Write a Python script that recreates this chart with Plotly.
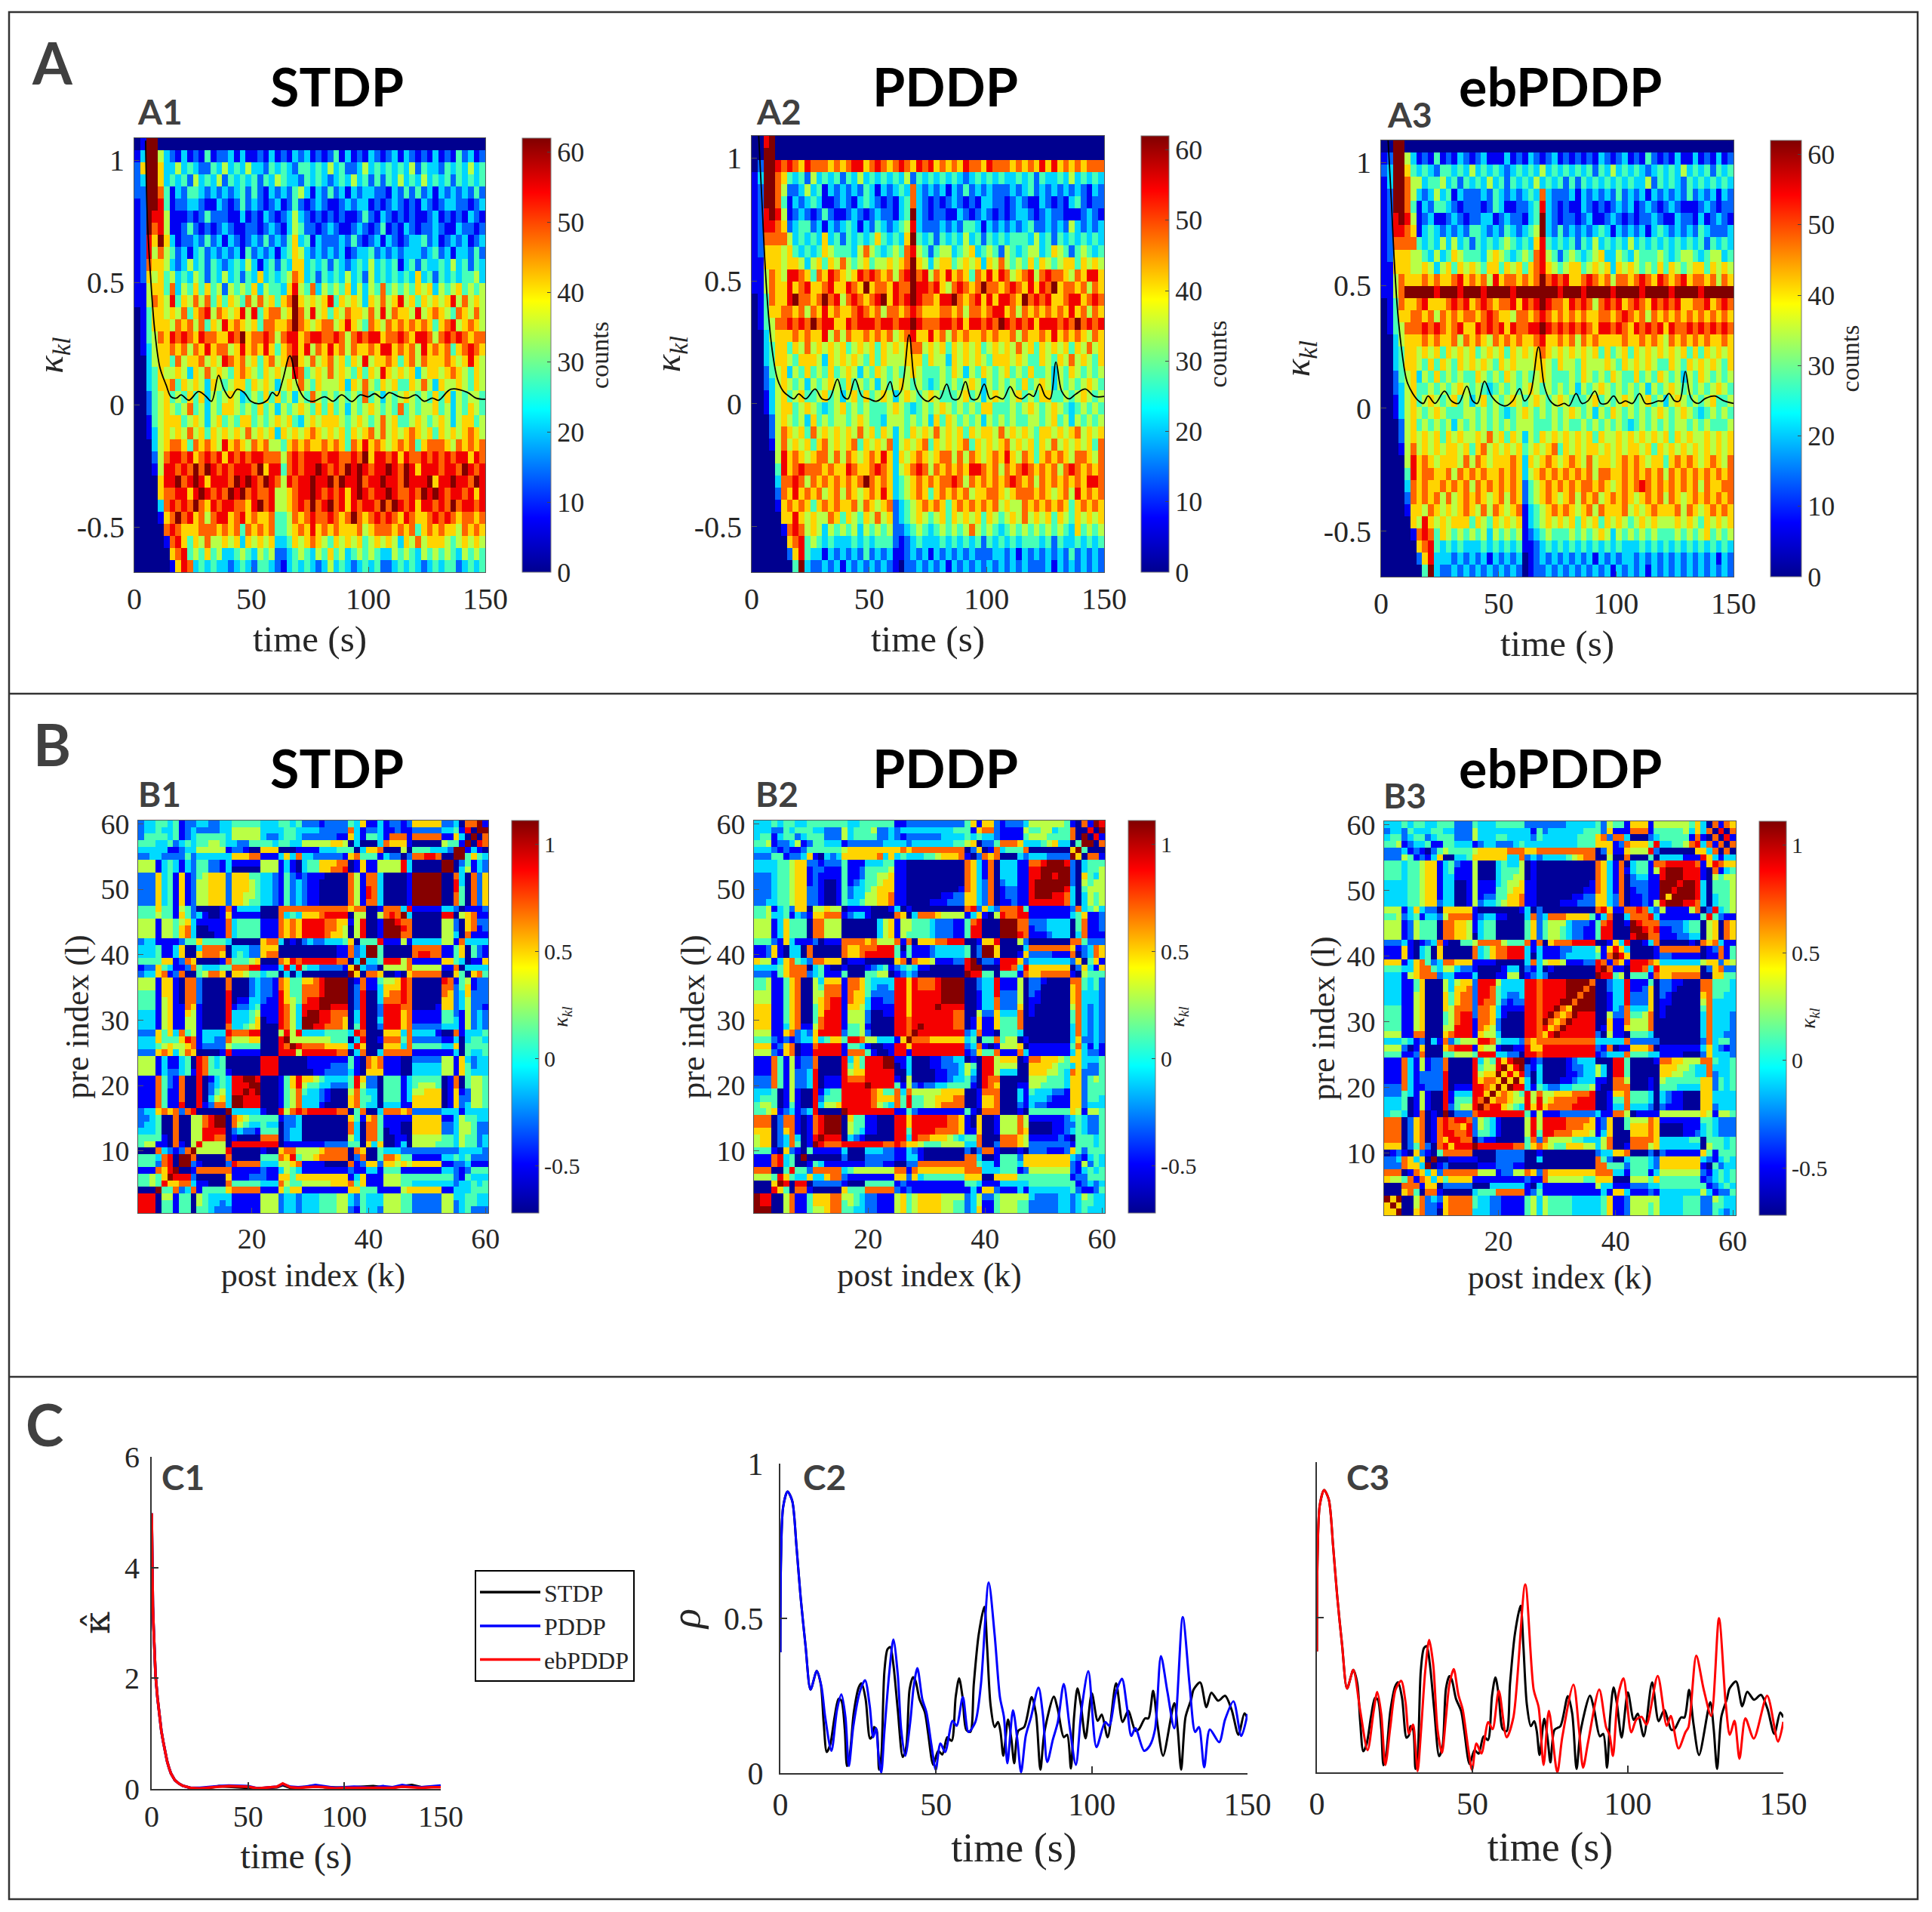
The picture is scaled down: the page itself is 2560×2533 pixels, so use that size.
import plotly.graph_objects as go

W, H = 2560, 2533
SERIF = "Liberation Serif"
SANS = "Lato"
JET = [[0, "#00008f"], [0.125, "#0000ff"], [0.375, "#00ffff"], [0.625, "#ffff00"], [0.875, "#ff0000"], [1, "#800000"]]

# ---------- A panels: counts, one digit per cell (level 0-9, top row first)
A1_LEVELS = [
"019900 000000000 000000000 000000000 000000000 000000000 000000000",
"139953 213121412 231311213 121323121 241312132 123132121 312142312",
"269963 353432243 534353324 343244343 534223534 343435243 324343534",
"239963 434253435 243434243 543324343 234353424 243534353 434243434",
"229974 132443232 323424213 232453132 423132332 213242423 132323242",
"129984 122332113 212423212 312421232 112323312 123212132 123322123",
"129885 111212422 211312132 123532121 212112421 321212112 312121321",
"129785 112421212 321122123 213542212 321123212 412132122 321132212",
"128696 312232423 132123242 324634132 223242123 132123342 312323123",
"128575 423134232 323142323 134653232 323123342 323233323 423133242",
"127665 323534243 234353134 243663434 243234353 434134243 343534243",
"126564 534354243 534243634 345763424 343534253 434343634 243434453",
"115664 735464645 254546354 436854735 454635354 745454656 354564545",
"115765 846575746 465475756 467965656 846565365 756856465 656857565",
"014665 657467857 656858467 756975856 465766575 857665856 765476575",
"014666 576757465 867656477 667976567 756865476 576767676 467856765",
"014576 878768776 687967787 578867887 787578788 677876887 578787677",
"013566 767576867 756867686 467868576 867576676 886767586 767467876",
"003566 475667565 876756467 567965756 756465856 676467576 667656865",
"003465 565365756 546765465 655874565 756546465 865656356 656765465",
"003466 746565365 456646565 356575465 556365754 656446575 365565465",
"002456 454646354 565345464 645354754 545454745 354565454 646354554",
"002456 545745354 665454645 354565464 645354565 454745455 645354654",
"001456 664565356 454664545 656435656 665456545 756445654 565356645",
"001356 565756465 656575656 365656765 656465675 756567656 465656765",
"000356 776476765 867657675 546767667 676476867 656767467 776576767",
"000257 887867878 687878877 757878887 887787968 878687787 878788687",
"000158 878797987 878887968 847878898 787989878 898798688 878879878",
"000068 897898688 879898798 758788988 979889788 988798889 688988798",
"000067 788689878 798978778 556788987 878689878 898778798 987887868",
"000037 878797687 887768978 556787978 978687887 979878688 787978878",
"000016 797867578 867867667 445767877 876797678 787687667 878767767",
"000007 876667776 767476767 445676867 676667567 776767467 676657676",
"000001 786465755 656365656 334656765 465656456 565365756 665456565",
"000000 678454645 334543545 223454354 645345454 335454354 545435454",
"000000 168734343 323432443 213434323 534323434 223434323 434423434",
]
A2_LEVELS = [
"008900 000000000 000000000 000000000 000000000 000000000 000000000",
"009900 000000000 000000000 000000000 000000000 000000000 000000000",
"029987 876877767 678867876 787687867 676877687 776767686 867676777",
"139976 434253434 243534343 435243434 343234343 433434243 343534343",
"129975 223534132 323243132 343732323 132423232 223234232 323232132",
"129974 132343112 321343212 134732121 232121332 212321132 121342122",
"128985 123212421 123212322 134932122 113212321 212332123 221112321",
"128876 234423132 343132432 345832223 232443132 323234223 232532323",
"127777 534343634 243434643 436943424 343534243 434443534 243434343",
"126665 643434654 443575434 547854245 534563454 254345534 654245434",
"116665 665356465 754564556 567965356 645656365 754546465 456646565",
"115765 887647687 656878767 578978576 867647686 875678578 776576886",
"115766 867866786 687696776 877988786 578767977 678768687 967767576",
"014766 897767978 578767896 878987768 897678686 887697878 667886787",
"014667 767576867 667876757 767876667 767577678 867576767 676867576",
"014577 878797886 687888788 788987778 878688787 987878688 878797878",
"003566 676766857 576676767 567866867 576766767 667576676 867676576",
"003466 465756565 645656465 656775656 465656456 565756465 656465756",
"003466 546665365 656546465 556664655 365656546 665654465 465756546",
"002456 354645464 565354654 545654445 465354654 564546445 354654545",
"002356 545354565 464545354 565454345 454565354 545464565 354545654",
"001356 456445645 356464565 356545654 445645356 545645466 445456545",
"001356 645654345 645454445 654345456 545454664 445456545 654345454",
"000256 545364545 545654435 554545364 654545354 545445545 645354545",
"000257 656475656 565756465 354656575 656465665 756565466 565675656",
"000157 565646756 567465657 356567465 656746565 675656465 756565647",
"000058 676567757 576567686 365676567 757576567 686576467 676577657",
"000048 678777676 687667876 356787576 767688767 576787676 757876767",
"000037 787576767 676797676 345676767 787576767 678767576 767676887",
"000027 686767567 576567686 345676467 676756677 656777676 567586767",
"000016 767646767 667576567 234567676 467676767 565576767 676467676",
"000006 686565576 465465756 234565456 465656465 456575656 465465656",
"000001 787565354 545354545 223454345 454575454 345454545 454364545",
"000000 678454343 334343444 212343334 343434243 434344434 243343434",
"000000 268433132 323242323 112323132 323232223 323132323 232423232",
"000000 049322323 132323232 102232323 132323232 323232223 132323232",
]
A3_LEVELS = [
"009900 000000000 000000000 000000000 000000000 000000000 000000000",
"129953 121412132 123111312 132123121 212132123 121421213 113121312",
"239964 343244343 534343234 343534343 434243534 343234343 534342434",
"139975 534453424 343534243 435343424 243434343 433524343 243434343",
"129975 323534132 223243232 343732223 132323242 323132323 242323132",
"129974 132443212 221243112 234832121 132121232 312321232 111232122",
"128985 123112321 223312322 134932122 123112321 212232113 221312321",
"128876 134323232 443232432 345932423 232343132 323134323 232432223",
"127777 434353534 243434543 436843434 243534343 534343434 343424343",
"126665 543534654 443565434 547854245 434563354 354445434 554345534",
"116665 565356465 654664656 467865456 645656365 654546465 456646565",
"115766 676766786 767586776 767978786 678767577 678768767 867767576",
"115799 999899989 998999989 999999899 989999899 998999989 999899999",
"014766 786667878 678767786 878987768 787578786 787687878 667786787",
"014667 767576767 767876657 767876767 676677678 767576767 676767676",
"014577 787876786 687878687 788987878 787688787 687878687 787878787",
"003566 676766757 676576767 667866767 576766667 667676576 767676676",
"003466 565646565 645656465 656765656 565646456 465656565 646465656",
"003466 546465465 656546565 556654655 465556546 565654465 465656546",
"002456 354645454 465454654 545654445 465454654 464546545 354654545",
"002356 445454565 454345454 565454545 354565454 545354565 454545654",
"001356 456545645 356454565 456545654 445645456 545645356 545456445",
"001356 545654445 545454345 654545456 545354654 545456545 654345454",
"000256 454545354 545454545 554445454 454545454 345454545 545454445",
"000256 565646565 565756465 354656565 656465565 656565646 565565656",
"000157 565656656 467565656 456567465 656656565 665646565 656565656",
"000058 676566657 576566676 365676567 657566567 676566467 676567657",
"000048 677667576 767667676 356767676 767577667 676767576 767676767",
"000037 676676767 576767676 245676767 677676567 678767676 767576677",
"000027 676757567 676567576 245676567 576756767 656767576 567676767",
"000016 657656567 657576567 134567676 567576667 565676667 576567676",
"000006 586565666 465465656 134565656 465646565 456565556 565465656",
"000001 787465454 545354545 123454445 454565354 545454445 454564545",
"000000 678434343 334343434 112343434 343434343 334343434 343434343",
"000000 268333232 323132323 012323232 323132323 323232323 232323132",
"000000 049322323 232323232 012232323 232323132 323132323 232323232",
]

# ---------- B panels: kappa, one digit per cell (level 0-9, row 60 first)
B1_LEVELS = [
"233 4434122 33 223 3 444 44 333 4434 222 12222 4 3 6 11 3 122 1 2 66666 22 3 0 7 7 9 1",
"233 4334123 22 223 3 555 55 333 3443 333 22222 7 3 1 22 3 112 1 1 22222 33 4 1 8 0 9 1",
"244 4434123 44 444 3 555 55 322 3443 222 22211 6 3 1 44 3 177 7 1 77777 11 6 3 0 9 0 7",
"444 3342343 44 554 3 322 44 443 4433 555 55665 0 3 0 00 3 766 6 1 00000 54 4 1 9 0 7 0",
"333 3311233 55 555 1 221 00 666 0001 111 33344 4 0 3 66 7 000 5 0 44433 32 9 9 2 1 3 2",
"223 3222242 33 333 3 666 77 111 3637 332 22221 6 7 4 44 1 322 0 2 77887 00 9 0 6 2 7 4",
"555 1343132 44 221 3 111 11 555 1310 344 66677 0 1 6 11 5 555 8 3 00000 99 0 6 6 1 3 4",
"555 1343132 44 221 3 000 00 555 1310 344 66778 0 1 6 11 5 555 8 3 00000 99 0 6 6 1 3 4",
"222 6341612 45 666 2 666 44 332 1421 211 10000 7 5 1 77 3 000 0 1 99999 00 7 3 1 7 4 6",
"222 6341612 55 666 2 666 54 332 1423 211 00000 7 5 1 77 3 000 0 1 99999 00 7 3 1 7 4 6",
"222 6341612 55 666 2 666 54 332 1423 211 00000 7 5 1 87 3 000 0 1 99999 00 7 3 1 7 4 6",
"222 6341612 55 666 2 665 54 332 1423 211 00000 7 5 1 87 3 000 0 1 99999 00 8 3 1 7 4 6",
"222 6341612 55 666 2 665 44 332 1423 211 00000 7 5 1 77 3 000 0 1 99988 00 7 3 1 7 4 6",
"444 6441542 00 001 7 133 33 000 7777 777 77777 6 7 7 00 1 777 3 8 00000 33 2 0 4 6 6 2",
"444 5441642 31 001 6 111 11 000 7343 666 78888 0 5 5 00 5 787 9 3 00000 88 0 3 4 6 6 2",
"555 1554563 11 111 7 344 44 111 7676 888 87766 1 5 8 00 1 998 6 8 00000 66 3 1 7 4 6 2",
"555 1554673 00 111 7 344 44 111 7676 888 87765 0 5 8 00 1 998 6 8 00000 65 3 1 7 4 6 2",
"555 1554673 00 011 7 344 44 111 7676 888 87665 0 5 8 00 1 998 7 7 00000 65 3 1 7 4 6 2",
"233 1111244 64 444 3 000 00 677 3010 232 23334 6 0 4 44 8 112 6 2 33344 21 5 7 3 3 3 3",
"333 4113600 37 777 0 333 22 666 0000 000 00011 7 2 3 99 5 000 0 0 77776 11 4 6 1 6 1 3",
"333 4113600 67 776 0 343 22 677 0000 000 00011 7 2 3 99 5 000 0 0 77776 11 4 6 1 6 1 3",
"444 4661276 00 001 7 444 56 000 7687 888 88877 0 3 9 00 8 888 7 7 00000 54 4 1 6 3 6 2",
"122 6431127 43 334 4 777 88 111 3838 433 22221 6 9 6 32 0 555 1 7 44444 21 7 0 3 4 4 2",
"233 6712700 45 776 0 665 44 344 0303 000 00000 9 6 0 78 1 111 3 7 77776 21 6 1 3 5 3 2",
"555 1661077 20 000 7 000 23 221 7644 667 89999 0 3 8 00 6 677 8 4 00000 76 2 3 5 6 5 2",
"555 1661077 20 000 7 000 23 221 7644 777 89999 0 3 8 00 6 677 8 4 00000 76 2 3 5 6 5 2",
"444 1661077 20 000 8 000 23 221 8644 777 89999 0 3 8 00 6 777 8 4 00000 76 2 3 5 6 5 2",
"444 1561077 20 000 8 011 33 211 8654 788 99998 0 3 8 00 6 777 8 4 00000 65 2 3 5 5 4 2",
"444 1561176 10 000 8 122 34 111 8753 888 98887 0 4 8 00 6 778 7 4 00111 55 3 2 5 5 4 2",
"333 1561165 10 000 8 333 45 111 8753 899 88877 0 5 8 00 7 888 7 4 00011 55 3 2 5 5 4 2",
"333 1561155 10 000 8 333 46 011 8753 999 88766 0 5 8 00 7 888 7 4 11122 44 3 2 5 5 4 2",
"333 1561155 10 000 7 334 56 000 8753 999 87665 0 5 8 00 7 888 6 4 11122 44 3 2 5 5 4 2",
"222 6463745 13 333 8 777 88 000 5858 777 43344 4 8 6 11 0 777 6 6 33332 44 6 2 3 3 4 4",
"333 6444687 13 322 7 555 66 000 8959 877 65566 3 8 8 11 0 888 6 6 22222 44 5 2 3 3 4 4",
"333 4565567 12 222 5 444 44 000 8787 777 66655 3 4 4 11 1 777 6 4 22222 44 4 2 3 4 4 4",
"222 6763576 00 001 8 111 11 000 8788 888 87777 1 3 8 00 0 666 5 5 11111 33 6 1 3 3 4 4",
"555 1311340 87 434 0 000 00 888 0000 000 00112 4 1 1 66 7 111 3 1 44433 21 6 1 3 3 3 3",
"555 1311340 87 434 0 000 00 888 0000 000 01222 4 1 1 66 7 111 3 1 44444 21 6 1 3 3 3 3",
"555 1322341 87 444 1 000 00 888 0000 000 11233 4 1 1 66 7 111 3 1 44444 21 6 1 3 3 3 3",
"111 7421700 80 134 3 889 98 000 2878 766 43322 6 8 3 22 1 444 2 6 55555 11 6 1 3 3 3 3",
"111 7421700 80 234 3 888 99 000 2878 776 33221 6 8 3 22 1 444 2 6 55566 11 6 1 3 3 3 3",
"111 7411700 80 245 3 889 88 000 2888 655 33211 6 8 3 22 1 444 2 6 56666 11 6 1 3 3 3 3",
"111 7411700 80 356 3 999 88 000 1888 555 32111 7 8 3 22 1 444 2 6 56666 11 6 1 3 3 3 3",
"111 7411800 81 277 3 998 77 111 1888 444 21100 7 8 3 22 1 333 2 6 66666 11 6 1 3 3 3 3",
"233 6767278 00 000 9 000 00 111 8878 888 87777 7 6 1 00 1 777 6 6 44444 22 5 1 3 3 4 4",
"223 4007005 57 899 0 776 33 333 0312 111 00000 8 4 1 77 3 111 3 1 66666 22 4 2 3 3 4 4",
"233 4007005 57 899 0 766 33 333 0312 111 00000 8 4 1 77 3 111 3 1 66666 22 4 2 3 3 4 4",
"333 4007005 58 888 0 555 33 222 0212 111 00000 8 4 1 77 3 111 3 1 66666 22 4 2 3 3 4 4",
"444 4107005 58 887 0 222 22 222 0101 000 00000 7 4 1 77 5 111 3 1 55555 22 5 2 3 3 4 4",
"455 1107105 88 777 0 222 11 777 0000 000 00000 6 4 1 66 6 111 3 1 44444 23 5 2 3 3 4 4",
"000 7321279 01 344 2 888 88 000 2767 555 44433 3 7 3 22 3 333 2 3 44444 22 6 2 3 3 3 3",
"444 3780990 00 000 7 011 22 333 7465 666 77777 0 4 6 11 3 555 6 4 11111 22 3 3 3 3 3 3",
"444 2780981 00 001 7 111 22 333 7465 666 77777 0 4 6 11 3 555 6 4 11111 22 3 3 3 3 3 3",
"111 7689011 23 666 4 777 55 111 7566 444 11111 0 5 1 44 3 444 2 2 44444 22 5 2 3 3 3 3",
"445 4690787 11 100 6 122 33 333 6567 666 77777 1 6 3 11 3 555 5 5 11111 22 4 2 3 3 3 3",
"445 4890878 10 000 6 111 33 333 7566 666 66666 1 6 3 11 3 555 5 5 22222 22 4 2 3 3 3 3",
"000 9337367 65 554 3 777 66 111 6576 555 55555 6 6 3 22 4 444 4 4 55555 22 5 3 3 3 3 3",
"888 0341334 55 322 2 111 11 555 2234 344 44455 1 2 3 33 4 444 4 4 22222 22 4 3 4 4 3 3",
"888 0341334 55 322 2 111 11 555 2234 344 44445 2 2 3 33 4 444 4 4 22222 22 4 3 4 4 3 3",
"899 0341334 55 322 2 111 11 555 2234 344 44445 2 2 3 33 4 444 4 4 22222 22 4 3 4 4 3 3",
]
B2_LEVELS = [
"333 4344334 44 444 4 334 44 444 1122 222 22222 4 6 1 66 2 122 2 3 55555 54 1 0 7 1 9 8",
"333 2243444 33 222 5 344 45 223 2333 333 33344 4 1 6 77 2 111 1 5 44553 44 7 0 0 8 0 8",
"344 1344234 44 222 5 344 44 223 2122 222 23333 4 3 4 33 2 111 1 4 55544 44 7 0 9 0 9 0",
"445 1223512 44 333 1 222 22 233 3323 333 33344 5 6 0 22 4 777 6 3 33456 33 0 4 9 1 8 0",
"333 2121124 44 444 5 666 66 666 6767 777 77777 0 2 6 01 7 344 4 7 00000 00 6 9 3 3 2 3",
"222 4412236 10 323 6 666 66 736 3433 344 56667 1 0 2 76 7 000 3 2 33322 22 9 6 7 2 1 6",
"333 3445662 21 222 4 111 33 344 1100 000 00000 7 6 3 17 0 333 1 1 77899 98 0 0 7 3 5 5",
"333 3445661 22 111 4 112 44 445 1100 000 00000 7 6 3 17 0 333 1 1 88999 98 0 0 7 3 5 5",
"222 3445661 21 111 4 112 44 556 1100 000 00000 7 6 3 17 0 333 1 1 88998 97 0 0 7 3 5 5",
"222 3445661 21 001 4 123 44 566 1100 000 00000 7 6 3 27 0 233 1 1 89998 87 0 0 6 3 5 5",
"222 3445662 21 001 4 233 45 666 1100 000 00001 7 6 3 27 0 122 1 1 89998 87 0 0 6 3 5 5",
"222 3445662 21 001 4 233 55 667 1100 000 01122 6 6 3 27 0 122 1 1 89887 77 0 0 6 3 5 5",
"223 3445662 21 001 4 334 55 667 1100 001 11222 6 6 3 27 0 112 1 1 88876 66 0 0 6 3 5 5",
"445 1342660 55 655 0 111 10 001 3010 000 00000 7 8 2 63 2 777 8 4 44567 86 1 1 3 1 3 3",
"445 3341321 66 777 1 233 10 000 7603 777 65555 1 3 6 10 5 877 8 3 00000 01 3 7 3 1 0 2",
"555 1364440 77 555 0 000 00 356 1554 443 22211 4 7 8 00 0 999 7 7 11223 10 7 6 1 6 1 3",
"555 1364440 77 555 0 000 00 356 1554 443 22211 4 8 8 00 0 999 8 7 11233 20 7 6 1 6 1 3",
"555 1364440 77 555 0 000 00 356 1544 443 22211 4 8 8 00 0 999 8 8 11233 10 7 6 1 6 1 3",
"444 2163111 20 111 7 777 67 555 7170 666 77888 0 0 1 66 8 012 2 4 22221 11 7 7 3 1 3 3",
"112 6103307 00 000 7 667 77 888 4041 112 33333 4 0 2 99 5 000 0 3 77766 45 2 1 7 1 3 2",
"112 6103307 00 000 7 667 88 888 4141 112 33333 4 0 2 99 5 000 0 3 77766 45 2 1 7 1 3 2",
"655 1367432 77 666 0 111 00 000 6707 665 11122 8 9 0 00 9 888 6 7 01111 11 7 3 0 3 6 3",
"333 3467770 34 100 1 000 12 341 2343 110 00000 8 9 6 33 0 777 8 7 44566 78 1 0 3 3 3 3",
"222 1467772 34 111 4 000 44 550 1232 000 00000 9 6 4 34 1 445 1 0 77777 88 5 1 3 2 4 3",
"445 1146700 53 666 1 776 43 333 8868 777 89999 0 0 3 33 8 133 6 0 11110 66 7 3 3 3 3 2",
"445 1146700 54 777 1 776 43 223 8868 777 89999 0 0 3 34 8 133 6 0 11110 66 7 3 3 3 3 2",
"555 1146700 55 777 1 766 42 222 8868 888 89999 0 0 3 44 8 233 6 0 11100 66 7 3 3 3 3 2",
"555 1146700 56 788 1 766 31 122 8868 888 89999 0 0 3 44 8 233 6 0 11100 66 7 3 3 3 3 3",
"666 1146700 46 788 1 665 31 111 8868 888 99998 0 0 3 54 8 233 6 0 11000 66 7 3 3 3 3 3",
"666 1146700 46 888 1 555 20 011 8868 888 99988 0 6 1 00 8 344 6 0 10000 66 7 3 3 3 3 3",
"666 1146700 47 888 1 555 20 000 8878 889 99887 0 6 1 00 7 444 7 0 00000 66 7 3 3 3 3 3",
"666 1136711 57 888 1 445 10 000 8878 999 98877 0 6 1 00 7 455 7 0 00000 66 7 3 3 3 3 3",
"555 1167232 68 888 2 445 20 000 8879 999 88777 0 7 1 00 7 666 7 1 00111 66 7 3 3 3 3 3",
"444 2121233 63 466 4 887 55 333 1697 677 77777 3 4 3 43 8 222 3 3 22222 26 7 3 3 3 3 3",
"666 1267011 78 888 1 443 10 011 8878 889 88888 1 7 1 00 5 666 7 2 11111 56 7 3 3 3 3 3",
"555 2167011 88 888 1 777 41 001 8878 888 88888 0 6 3 33 5 555 7 1 00001 16 7 3 3 3 3 3",
"111 7415122 70 000 8 364 88 899 0230 001 23344 6 3 0 88 4 000 1 3 66666 55 3 2 4 1 5 3",
"111 7415122 70 000 8 464 88 899 0230 001 23344 6 3 0 88 4 000 1 3 66666 55 3 2 4 1 5 3",
"111 7415223 80 000 8 566 88 889 0130 011 23344 6 3 0 88 4 000 1 3 66655 44 3 2 4 1 5 3",
"222 7415223 80 111 8 777 88 888 0130 112 33444 5 3 0 88 4 000 1 3 55555 44 3 2 4 1 5 3",
"222 7415223 80 111 8 888 99 888 0130 112 33444 5 3 0 88 4 000 1 3 55544 33 3 2 4 1 5 3",
"333 4015100 81 344 8 888 88 766 0150 345 54444 6 1 0 77 3 000 2 3 33322 22 6 2 4 1 5 3",
"344 4015100 82 444 8 887 76 555 1261 344 55677 7 1 0 77 4 000 3 3 22222 22 6 3 4 1 5 3",
"455 4014100 83 556 8 876 65 455 2261 344 66788 7 1 0 66 6 000 3 2 22222 22 6 3 4 1 5 3",
"445 6123123 80 000 9 888 88 888 1230 113 33330 0 0 7 84 6 000 0 1 55555 44 5 3 4 2 3 3",
"777 0277101 78 999 1 664 11 000 8887 888 87777 0 5 7 10 5 666 7 3 11111 12 4 5 5 2 4 3",
"777 0277101 78 999 1 664 11 000 8887 888 87776 0 5 7 10 5 666 7 3 11111 12 4 5 5 2 4 3",
"666 0267101 78 998 1 653 10 000 8887 888 77766 0 5 7 00 5 666 7 3 11122 22 4 5 5 2 4 3",
"566 0237301 89 988 1 322 00 000 5876 776 66655 3 6 7 00 5 777 6 5 22222 22 4 5 5 3 4 3",
"566 0237401 98 777 1 111 00 000 5776 665 55444 3 6 7 00 5 777 6 5 33333 22 4 4 5 3 4 3",
"444 1062104 90 222 8 888 88 877 3363 344 55444 1 0 6 66 5 000 0 3 33333 22 4 5 4 3 3 3",
"111 7834099 06 222 6 000 23 333 0100 111 00000 7 7 4 53 0 444 3 3 55555 55 3 2 3 3 3 3",
"111 7834099 05 211 5 001 23 333 0100 111 00000 7 7 4 53 1 444 3 3 55566 55 3 2 3 3 3 3",
"777 0048001 64 777 3 762 11 212 7767 666 77777 0 1 5 44 5 444 4 2 11111 22 5 3 3 3 3 3",
"555 4867331 88 777 0 211 00 111 4544 444 44444 5 6 3 11 3 666 5 3 33333 33 3 2 3 3 3 3",
"000 6967331 44 222 5 111 33 666 1011 111 11111 6 6 3 55 3 222 3 4 55555 44 3 2 3 3 3 3",
"000 8066781 31 111 6 122 66 777 0100 011 11111 6 4 6 61 5 222 2 4 55555 44 3 3 3 3 3 3",
"988 0068112 56 777 3 444 21 111 6655 666 55555 2 3 2 13 5 555 5 3 22233 44 5 4 2 4 3 3",
"988 0068112 56 777 3 444 21 111 6655 666 55555 2 3 2 13 5 555 5 3 22233 44 5 4 2 4 3 3",
"988 0068112 56 777 3 444 21 111 6655 666 55555 2 3 2 13 5 555 5 3 22233 44 5 4 2 4 3 3",
]
B3_LEVELS = [
"333 4344334 44 222 4 333 44 444 2222 222 33333 4 2 5 44 1 666 1 5 55555 46 3 0 7 1 7 6",
"233 2433344 33 222 5 333 33 333 3142 333 33344 4 2 6 11 1 777 1 4 44445 36 3 7 0 8 0 7",
"344 2344234 44 222 5 333 44 333 3243 333 33444 6 7 2 77 3 000 2 3 44444 17 1 0 7 0 6 1",
"445 1233411 44 333 1 233 22 234 3333 333 33444 6 6 6 12 7 666 4 8 33445 78 3 7 1 8 0 8",
"222 3121024 54 444 5 666 66 777 6677 777 77777 0 2 6 11 6 555 8 2 00000 06 6 3 3 3 3 4",
"222 5412136 00 334 6 666 66 337 2323 333 45677 0 0 5 00 7 000 4 0 33331 11 8 6 0 7 2 6",
"444 3445661 34 211 5 000 34 335 0100 000 00000 7 6 3 17 0 344 1 7 78888 87 0 0 7 2 5 3",
"444 3445661 34 111 5 000 34 445 0100 000 00000 7 6 3 17 1 344 1 5 89998 86 0 0 7 3 5 3",
"444 3445661 33 111 5 000 34 455 0100 000 00000 7 6 3 17 0 233 1 1 89998 68 0 0 6 3 5 3",
"333 3445661 33 001 5 111 34 556 1100 000 00001 7 6 3 17 0 222 1 1 99986 98 0 0 5 4 4 4",
"333 3445661 33 001 5 111 44 566 1100 000 00011 7 6 3 17 0 122 1 1 99869 98 0 0 5 4 4 4",
"333 3445661 33 001 5 122 44 667 1100 000 01122 6 6 3 27 0 112 1 1 96999 88 0 0 5 4 4 4",
"333 3445662 33 001 5 233 45 667 1100 001 11222 6 6 3 27 0 112 1 5 88888 77 1 0 5 4 4 4",
"555 1363220 66 666 1 000 00 001 3020 000 00000 7 8 6 11 7 787 3 2 00000 11 0 1 7 3 1 2",
"445 2341332 57 777 1 233 11 000 3723 777 66664 1 3 7 00 3 777 8 3 00000 11 4 8 6 1 3 2",
"555 1254440 77 665 1 344 00 000 4624 555 32221 4 7 8 00 1 987 7 7 00011 23 7 5 6 1 3 2",
"555 1254440 77 665 1 344 00 000 4624 554 32211 4 8 8 00 0 998 7 7 00112 24 6 5 7 1 3 2",
"555 1254440 77 665 0 344 00 000 4624 554 32211 4 8 8 00 0 896 8 7 00012 34 6 5 7 1 3 2",
"222 3101237 10 044 5 777 75 444 7170 677 78888 0 0 1 63 8 001 2 4 33333 21 8 1 3 1 6 2",
"111 6103406 00 000 7 346 77 888 3131 112 23333 5 1 6 86 3 000 0 3 77776 64 3 0 6 1 6 3",
"111 6103406 00 000 7 346 77 888 3031 112 33333 4 1 7 97 3 000 0 3 77777 64 3 0 6 1 6 3",
"666 1367423 77 666 1 111 00 000 3735 665 11122 8 7 1 11 8 888 7 6 01112 23 6 4 0 6 6 3",
"444 3367743 55 322 1 000 01 330 2130 100 00000 8 9 6 11 1 777 8 8 55667 77 1 0 3 4 4 2",
"333 1567772 33 111 3 000 11 550 1232 000 00000 9 6 4 34 1 445 1 0 77777 88 2 1 4 3 3 3",
"333 1146000 53 566 2 888 53 333 8878 888 99997 0 0 3 34 8 133 6 0 11110 66 7 3 3 3 3 3",
"333 1146000 53 667 2 887 43 333 8878 888 99976 0 0 3 34 8 133 6 0 11110 66 7 3 3 3 3 3",
"333 1156000 64 677 2 887 43 223 8878 888 99769 0 0 3 44 8 233 6 0 11100 66 7 3 3 3 3 3",
"333 1156000 64 677 2 877 42 122 8878 889 97699 0 0 3 44 8 233 6 0 11100 67 7 3 3 3 3 3",
"444 1156000 65 777 2 776 31 111 8878 897 69988 0 3 1 00 8 244 6 0 10000 66 7 3 3 3 3 3",
"444 1156000 45 788 2 776 31 000 8878 976 99887 0 6 1 00 7 344 6 0 00000 67 7 3 3 3 3 3",
"444 1156000 45 788 1 776 20 000 8879 769 98877 0 6 1 00 7 455 7 0 00000 67 7 3 3 3 3 3",
"444 1156000 55 888 1 765 20 000 8878 699 88777 0 6 1 00 7 455 7 0 00000 66 7 3 3 3 3 3",
"555 1177000 67 888 1 655 30 000 8876 889 88766 0 5 1 00 6 566 7 1 00001 66 7 3 3 3 3 3",
"333 4312031 72 455 5 887 43 332 7676 677 87888 0 1 5 42 8 122 3 0 22221 16 6 3 3 3 3 3",
"555 2016000 67 888 1 655 10 011 8687 888 88766 0 6 1 00 7 555 7 1 00000 66 7 3 3 3 3 3",
"444 1127000 44 555 4 888 33 220 8678 887 77788 0 4 2 33 6 455 6 0 00000 66 7 3 3 3 3 3",
"111 7315122 70 000 8 354 86 899 0130 001 23344 5 3 0 88 4 000 1 3 66666 55 3 2 4 2 4 3",
"111 7315122 70 000 8 455 89 689 0130 001 23344 5 3 0 88 4 000 1 3 66666 55 3 2 4 2 4 3",
"111 7312222 80 000 8 566 96 889 0130 111 34455 5 3 0 88 5 000 1 3 66655 55 3 2 4 2 5 3",
"111 7312222 80 000 8 677 69 889 0130 222 44555 5 3 0 88 6 000 1 3 55555 44 3 2 4 2 5 3",
"222 7311222 80 111 8 876 98 888 0130 222 44555 5 3 0 88 6 000 1 3 55544 33 3 2 5 3 4 3",
"222 4315100 81 333 8 869 87 666 0150 244 55555 5 1 0 77 6 000 1 3 44433 22 5 3 5 3 4 3",
"333 4015100 81 444 8 798 76 556 1261 567 77777 5 1 0 77 6 000 2 3 33322 22 6 3 5 3 4 3",
"333 4015100 82 455 8 968 65 555 1281 566 77888 5 1 0 66 6 000 2 3 33322 22 6 3 4 3 4 3",
"344 3017010 90 222 7 798 66 333 1380 111 22333 0 1 7 44 3 000 1 2 55555 44 5 3 4 3 4 3",
"777 0267017 87 887 0 677 11 000 7880 888 77766 0 4 6 00 6 666 7 2 11111 12 4 5 5 2 4 3",
"777 0267017 87 767 0 664 11 000 7880 888 77766 0 4 6 00 6 666 7 2 11111 12 4 5 5 2 4 3",
"777 0267017 88 786 0 663 10 000 8880 888 76665 0 4 6 00 7 667 7 2 11122 22 4 5 5 2 4 3",
"777 0267017 68 899 0 633 00 000 7876 776 55544 5 7 6 00 7 777 6 5 22222 22 4 5 5 3 4 3",
"666 0247207 88 877 0 222 00 000 6776 665 44433 5 6 7 00 6 777 6 5 33333 22 4 4 5 3 4 3",
"012 1062104 90 000 8 888 77 777 3373 344 55444 1 0 6 66 7 000 3 1 33333 22 5 5 3 3 3 3",
"223 7636094 05 311 3 000 34 677 0000 000 00000 7 6 3 33 1 333 2 2 55666 33 2 3 3 3 3 3",
"222 7663936 04 311 3 001 34 677 0000 000 00000 7 6 3 33 2 333 2 2 55666 33 2 2 3 3 3 3",
"777 0176002 46 777 3 664 21 111 7767 666 66666 1 3 5 44 2 455 4 2 22222 22 5 3 3 2 3 3",
"655 4714331 88 777 0 111 00 222 3544 444 44444 7 7 3 11 3 666 5 3 33333 33 3 2 3 3 3 3",
"000 7766331 44 222 5 333 44 666 1011 111 11111 5 6 3 44 3 555 3 4 55555 44 3 2 3 3 3 3",
"000 6006780 33 111 5 345 77 777 0211 111 11111 6 6 3 66 3 222 2 5 55555 44 3 3 3 3 3 3",
"969 0076112 67 777 1 333 11 111 5655 555 55566 4 4 2 13 5 555 5 3 33333 55 5 3 2 4 4 3",
"696 0076112 67 777 1 333 11 111 5655 555 55555 4 4 2 13 5 555 5 3 33333 55 5 3 2 4 4 3",
"669 0076112 67 777 1 333 11 111 5655 555 55555 4 4 2 13 5 555 5 3 33333 55 5 3 2 4 4 3",
]

# ---------- mean traces over the A panels
A1_T = [4.8,5.6,6.9,8.6,10.9,13.6,15.7,18,20,23.3,27.4,30.4,33,36,38.3,41,44,47,49.8,53.3,56.8,59,61,63.4,66.5,69.7,72.7,76.2,81.5,85,88.6,93,96.5,100,102.7,106,108.9,113.3,116.8,120.3,123.9,127.4,130,135.3,142.4,146,150]
A1_K = [1.08,.75,.53,.315,.153,.08,.032,.027,.04,.018,.054,.036,.014,.12,.063,.027,.063,.049,.014,.004,.018,.05,.036,.1,.2,.08,.027,.013,.032,.014,.04,.013,.04,.032,.045,.027,.049,.032,.027,.04,.014,.027,.018,.063,.05,.027,.022]
A23_T = [3,4.5,5.5,7,9,11,13.5,16,18,20,23,27,30,33,36.5,39,41,44,47,50,53,56,59,61,63.5,67,69.5,72,75,78,80,83,85.5,88,91,93.5,96,99,101.5,104,107,110,112.5,115,118,120,122.5,125,127,129.5,132,135,138,142,146,150]
A2_K = [1.09,.8,.6,.38,.2,.1,.05,.03,.02,.04,.02,.06,.02,.02,.1,.03,.02,.1,.03,.02,.01,.03,.09,.03,.05,.28,.08,.03,.01,.03,.02,.08,.02,.02,.09,.02,.02,.08,.02,.03,.02,.07,.03,.02,.04,.03,.08,.03,.02,.17,.05,.02,.04,.06,.03,.03]
A3_K = [1.09,.82,.62,.4,.22,.11,.06,.03,.02,.05,.02,.07,.03,.02,.09,.03,.02,.11,.05,.02,.01,.03,.08,.03,.06,.25,.09,.03,.01,.02,.01,.06,.02,.03,.07,.02,.02,.05,.02,.03,.02,.06,.02,.02,.03,.03,.06,.03,.03,.15,.04,.02,.04,.05,.03,.02]

# ---------- C1
C1_T = [0,.3,.6,1,1.5,2,3,4,5,6,7,8,9,10,12,14,16,18,20,25,30,35,40,45,50,55,60,65,68,72,76,80,85,90,95,100,105,110,115,120,125,130,135,140,145,150]
C1_STDP = [4.98,4.0,3.3,2.9,2.45,2.05,1.65,1.3,1.05,.85,.67,.5,.38,.28,.16,.1,.06,.04,.02,.01,.02,.05,.04,.03,.03,.01,.02,.03,.07,.02,.02,.04,.06,.03,.02,.02,.03,.04,.05,.03,.02,.05,.07,.03,.04,.04]
C1_PDDP = [4.98,4.0,3.3,2.9,2.45,2.05,1.65,1.3,1.05,.85,.67,.5,.38,.28,.16,.1,.06,.04,.02,.02,.04,.05,.06,.05,.05,.01,.02,.04,.09,.04,.03,.04,.07,.05,.02,.03,.04,.03,.02,.05,.03,.07,.04,.03,.05,.06]
C1_EBPDDP = [4.98,4.0,3.3,2.9,2.45,2.05,1.65,1.3,1.05,.85,.67,.5,.38,.28,.16,.1,.06,.04,.02,.01,.03,.04,.05,.04,.04,.01,.02,.04,.1,.03,.02,.03,.04,.03,.01,.02,.02,.03,.02,.02,.02,.04,.03,.02,.03,.03]

# ---------- C2 / C3
STDP_T = [0,.2,.9,2.3,3.8,5.2,6.5,8.1,9.7,11.7,13,13.9,14.9,16,17.4,18.7,19.6,20.7,21.4,22.3,23.6,25.2,26.1,27.4,28.8,29.6,30.1,30.9,31.7,32.4,33.4,34.4,35.3,36.3,37.7,39.3,40.4,41.5,42.6,43.4,44.7,46.4,47.4,49.1,50.7,52,53.6,55,56.3,57.4,58.5,59.7,61,62.1,63.7,65.5,66.4,67.5,68.8,69.9,70.7,71.6,73.1,74.2,75.1,76.4,78.3,80.7,82.1,83.5,84.8,87.8,89.1,91,92.1,93.3,94.3,95.4,96.5,98,100,101.9,103.2,105.1,107.8,109.9,111.7,114,115.1,117.1,118.2,119.7,121.1,122.9,126.5,127.6,128.7,130.1,131.9,132.7,134.8,136.8,138.4,140.6,142.8,144.9,147.1,149,150]
STDP_RHO = [.39,.69,.86,.91,.88,.73,.57,.41,.27,.33,.286,.165,.068,.092,.18,.24,.234,.14,.023,.06,.197,.278,.29,.238,.112,.12,.149,.14,.011,.052,.327,.40,.407,.35,.205,.052,.084,.27,.31,.298,.238,.197,.133,.027,.072,.06,.116,.104,.246,.306,.246,.14,.133,.286,.448,.537,.407,.22,.149,.165,.133,.056,.173,.108,.032,.137,.149,.246,.19,.011,.133,.247,.205,.116,.124,.015,.18,.274,.22,.112,.258,.169,.189,.116,.29,.165,.201,.137,.141,.177,.177,.266,.157,.056,.226,.141,.011,.181,.238,.27,.293,.213,.26,.234,.25,.205,.124,.193,.177]
PDDP_T = [0,.2,.9,2.3,3.8,5.2,6.5,8.1,9.7,11.7,13.2,14.4,16.4,18.2,19.6,20.9,22,23.4,25.5,27.2,28.7,29.8,30.7,31.5,32.4,33.4,35,36.3,37.7,38.8,40.1,41.7,42.8,44,45.6,46.9,48.5,49.9,51.4,52.9,55.3,56.6,58.6,60.4,62.6,64.4,66.9,68.8,70.5,71.8,72.9,74.7,76.1,77.3,78.8,80.5,82.9,84.3,85.7,87.5,89.1,91,92.9,94.9,96.7,98.9,101.5,104.3,105.6,107.8,109.7,111.3,112.7,114,116.8,118.6,120.3,122.2,124.3,126.5,129.2,131.4,133.2,134.4,136.1,137.9,140.9,142.8,145.5,148,150]
PDDP_RHO = [.39,.69,.86,.91,.88,.73,.57,.41,.27,.33,.28,.181,.072,.205,.254,.181,.023,.149,.262,.30,.217,.116,.145,.06,.002,.133,.327,.432,.319,.141,.056,.165,.278,.339,.238,.197,.092,.011,.096,.068,.169,.153,.246,.133,.165,.286,.616,.448,.246,.181,.032,.203,.108,.003,.12,.181,.276,.189,.036,.108,.165,.288,.149,.027,.205,.329,.084,.165,.153,.262,.305,.213,.12,.145,.072,.088,.141,.378,.262,.145,.504,.286,.133,.149,.019,.141,.10,.173,.232,.12,.191]
EB_T = [0,.2,.9,2.3,3.8,5.2,6.5,8.1,9.7,11.7,13.9,16.3,18.2,19.4,20.7,22,23.6,25.3,27.1,28.5,29.6,30.9,31.8,32.4,33.5,34.8,36.1,37.4,38.8,40.2,41.5,42.6,44,45.5,46.9,48.6,49.9,51.3,52.9,55.1,56.5,58.5,61,63.2,67,69.7,71.3,72.9,74.6,77.3,78.9,82.5,84.3,85.6,87.2,90.8,93,94.1,95.2,96.8,98.6,101.1,102.7,104.4,106,109.6,112.5,113.8,116.3,118.5,119.5,122,124.4,126.8,129.3,131.5,132.8,134.3,135.9,137.8,140.5,144.8,148.3,150]
EB_RHO = [.39,.69,.86,.91,.88,.73,.57,.41,.27,.33,.20,.071,.194,.259,.186,.024,.146,.267,.295,.226,.125,.154,.065,.004,.137,.323,.427,.348,.137,.063,.178,.283,.333,.25,.202,.081,.008,.093,.061,.162,.139,.263,.113,.178,.606,.267,.21,.024,.198,0,.113,.283,.137,.015,.097,.267,.146,.121,.053,.243,.303,.129,.17,.179,.154,.311,.15,.182,.077,.129,.146,.376,.267,.182,.497,.218,.121,.166,.044,.174,.109,.247,.099,.163]

TICKS_TIME = [0, 50, 100, 150]
TICKS_KAPPA = [-0.5, 0, 0.5, 1]
TICKTEXT_KAPPA = ["-0.5", "0", "0.5", "1"]
TICKS_COUNTS = [0, 10, 20, 30, 40, 50, 60]
TICKS_INDEX_X = [20, 40, 60]
TICKS_INDEX_Y = [10, 20, 30, 40, 50, 60]


def rows_to_levels(rows, n):
    out = []
    for r in rows:
        s = "".join(r.split())
        s = (s + s[-1] * n)[:n]
        out.append([int(c) for c in s])
    return out


def mirror_from_upper_left(m):
    # the coupling matrices are symmetric: the cells with column <= row were read, the rest mirror them
    n = len(m)
    out = [row[:] for row in m]
    for i in range(n):
        r = n - i
        for c in range(r + 1, n + 1):
            out[i][c - 1] = m[n - c][r - 1]
    return out


fig = go.Figure()
axes = {}


def px_x(a, b):
    return [a / W, b / W]


def px_y(a, b):
    return [1 - b / H, 1 - a / H]


def set_axes(i, box, xr, yr, xt, yt, framed=True, tf=40, xtitle=None, ytitle=None, tsize=46,
             xstand=10, ystand=14, ylabels=True, yttext=None, ls=10, ytitlefont=SERIF, line="#555555", xlabstand=0):
    sx = "" if i == 1 else str(i)
    common = dict(showgrid=False, zeroline=False, showline=True, linecolor=line, linewidth=2 if not framed else 1,
                  mirror=framed, ticks="inside", ticklen=7 if framed else 9, tickcolor=line, tickwidth=1 if framed else 2,
                  tickfont=dict(family=SERIF, size=tf, color="#262626"))
    axes["xaxis" + sx] = dict(common, domain=px_x(box[0], box[1]), range=xr, tickmode="array", tickvals=xt,
                              anchor="y" + sx, ticklabelstandoff=xlabstand,
                              title=dict(text=xtitle, font=dict(family=SERIF, size=tsize, color="#262626"), standoff=xstand))
    yaxis = dict(common, domain=px_y(box[2], box[3]), range=yr, tickmode="array", tickvals=yt,
                 anchor="x" + sx, showticklabels=ylabels, ticklabelstandoff=ls)
    if yttext:
        yaxis["ticktext"] = yttext
    if ytitle:
        yaxis["title"] = dict(text=ytitle, font=dict(family=ytitlefont, size=tsize, color="#262626"), standoff=ystand)
    axes["yaxis" + sx] = yaxis


KAPPA_TITLE = "<i>κ<sub>kl</sub></i>"
T_CENTERS = [2.5 * (i + 0.5) for i in range(60)]
Y_TOP, Y_BOT = 1.09, -0.685
ROW_H = (Y_TOP - Y_BOT) / 36
Y_CENTERS = [Y_TOP - ROW_H * (i + 0.5) for i in range(36)]
COUNT_STEP = 62 / 9

A_PANELS = [
    (1, (178, 643, 183, 758), (692, 730), A1_LEVELS, A1_T, A1_K),
    (2, (996, 1463, 180, 758), (1512, 1549), A2_LEVELS, A23_T, A2_K),
    (3, (1830, 2297, 186, 764), (2346, 2387), A3_LEVELS, A23_T, A3_K),
]
for i, box, cb, rows, lt, lk in A_PANELS:
    z = [[v * COUNT_STEP for v in row] for row in rows_to_levels(rows, 60)]
    sx = "" if i == 1 else str(i)
    fig.add_trace(go.Heatmap(
        x=T_CENTERS, y=Y_CENTERS, z=z, zmin=0, zmax=62, colorscale=JET, xaxis="x" + sx, yaxis="y" + sx,
        colorbar=dict(x=cb[0] / W, xanchor="left", xpad=0, ypad=0, thickness=cb[1] - cb[0], thicknessmode="pixels",
                      lenmode="fraction", len=(box[3] - box[2]) / H, y=1 - (box[2] + box[3]) / 2 / H, yanchor="middle",
                      tickvals=TICKS_COUNTS, ticks="inside", ticklen=5, tickcolor="#444", outlinecolor="#777", outlinewidth=1,
                      tickfont=dict(family=SERIF, size=36, color="#262626"),
                      title=dict(text="counts", side="right", font=dict(family=SERIF, size=34, color="#262626")))))
    fig.add_trace(go.Scatter(x=lt, y=lk, mode="lines", line=dict(color="black", width=1.8, shape="spline"),
                             showlegend=False, xaxis="x" + sx, yaxis="y" + sx))
    set_axes(i, box, [0, 150], [Y_BOT, Y_TOP], TICKS_TIME, TICKS_KAPPA, xtitle="time (s)", ytitle=KAPPA_TITLE,
             tsize=49, xstand=13, ystand=2, ls=4, yttext=TICKTEXT_KAPPA)

KAPPA_VALUE_STEP = 0.2
KAPPA_VALUE_MIN = -0.7
INDEX = list(range(1, 61))
B_PANELS = [
    (4, (183, 647, 1087, 1607), (678, 714), B1_LEVELS),
    (5, (999, 1464, 1087, 1607), (1495, 1531), B2_LEVELS),
    (6, (1834, 2300, 1088, 1610), (2331, 2367), B3_LEVELS),
]
for i, box, cb, rows in B_PANELS:
    lv = mirror_from_upper_left(rows_to_levels(rows, 60))
    z = [[KAPPA_VALUE_MIN + KAPPA_VALUE_STEP * v for v in row] for row in lv]
    fig.add_trace(go.Heatmap(
        x=INDEX, y=INDEX[::-1], z=z, zmin=-0.72, zmax=1.11, colorscale=JET, xaxis=f"x{i}", yaxis=f"y{i}",
        colorbar=dict(x=cb[0] / W, xanchor="left", xpad=0, ypad=0, thickness=cb[1] - cb[0], thicknessmode="pixels",
                      lenmode="fraction", len=(box[3] - box[2]) / H, y=1 - (box[2] + box[3]) / 2 / H, yanchor="middle",
                      tickvals=TICKS_KAPPA, ticktext=TICKTEXT_KAPPA, ticks="inside", ticklen=5, tickcolor="#444",
                      outlinecolor="#777", outlinewidth=1, tickfont=dict(family=SERIF, size=30, color="#262626"),
                      title=dict(text=KAPPA_TITLE, side="right", font=dict(family=SERIF, size=28, color="#262626")))))
    set_axes(i, box, [0.5, 60.5], [0.5, 60.5], TICKS_INDEX_X, TICKS_INDEX_Y, tf=38,
             xtitle="post index (k)", ytitle="pre index (l)", tsize=44, xstand=12, ystand=2, ls=3)

# C1
for name, vals, col in [("STDP", C1_STDP, "black"), ("PDDP", C1_PDDP, "#0000ff"), ("ebPDDP", C1_EBPDDP, "#ff0000")]:
    fig.add_trace(go.Scatter(x=C1_T, y=vals, mode="lines", name=name, line=dict(color=col, width=3.5),
                             xaxis="x7", yaxis="y7", showlegend=True))
set_axes(7, (201, 584, 1930, 2370), [0, 150], [0, 6], TICKS_TIME, [0, 2, 4, 6], framed=False,
         xtitle="time (s)", ytitle="κ̂", ytitlefont="DejaVu Serif", tsize=48, xstand=13, ystand=4, ls=6, line="#333333")
# C2
for vals_t, vals, col in [(STDP_T, STDP_RHO, "black"), (PDDP_T, PDDP_RHO, "#0000ff")]:
    fig.add_trace(go.Scatter(x=vals_t, y=vals, mode="lines", line=dict(color=col, width=3, shape="spline", smoothing=0.8),
                             xaxis="x8", yaxis="y8", showlegend=False))
set_axes(8, (1034, 1653, 1939, 2349), [0, 150], [0, 1], TICKS_TIME, [0, 0.5, 1], framed=False,
         xtitle="time (s)", ytitle="<i>ρ</i>", tsize=54, tf=42, xlabstand=4, xstand=15, ls=12, line="#333333")
# C3
for vals_t, vals, col in [(STDP_T, STDP_RHO, "black"), (EB_T, EB_RHO, "#ff0000")]:
    fig.add_trace(go.Scatter(x=vals_t, y=vals, mode="lines", line=dict(color=col, width=3, shape="spline", smoothing=0.8),
                             xaxis="x9", yaxis="y9", showlegend=False))
set_axes(9, (1745, 2363, 1937, 2348), [0, 150], [0, 1], TICKS_TIME, [0, 0.5, 1], framed=False,
         xtitle="time (s)", tsize=54, tf=42, xlabstand=4, xstand=15, ylabels=False, line="#333333")


def note(text, x, y, size, color="#000000", weight=True):
    return dict(text=f"<b>{text}</b>" if weight else text, x=x / W, y=1 - y / H, xref="paper", yref="paper",
                showarrow=False, xanchor="center", yanchor="middle",
                font=dict(family=SANS, size=size, color=color))


annots = [note(t, x, y, 70) for t, x, y in [
    ("STDP", 446, 114), ("PDDP", 1252, 114), ("ebPDDP", 2067, 114),
    ("STDP", 446, 1017), ("PDDP", 1252, 1017), ("ebPDDP", 2067, 1017)]]
annots += [note(t, x, y, 76, "#404040") for t, x, y in [("A", 69, 82), ("B", 69, 985), ("C", 59, 1886)]]
annots += [note(t, x, y, 46, "#404040") for t, x, y in [
    ("A1", 212, 147), ("A2", 1032, 147), ("A3", 1868, 152),
    ("B1", 211, 1051), ("B2", 1029, 1051), ("B3", 1861, 1053),
    ("C1", 242, 1956), ("C2", 1092, 1956), ("C3", 1812, 1956)]]

shapes = [
    dict(type="rect", xref="paper", yref="paper", x0=12 / W, x1=2541 / W, y0=1 - 2516 / H, y1=1 - 16 / H,
         line=dict(color="#333333", width=2.5)),
    dict(type="line", xref="paper", yref="paper", x0=12 / W, x1=2541 / W, y0=1 - 919 / H, y1=1 - 919 / H,
         line=dict(color="#333333", width=2.5)),
    dict(type="line", xref="paper", yref="paper", x0=12 / W, x1=2541 / W, y0=1 - 1824 / H, y1=1 - 1824 / H,
         line=dict(color="#333333", width=2.5)),
]

fig.update_layout(
    width=W, height=H, autosize=False, margin=dict(l=0, r=0, t=0, b=0, pad=0, autoexpand=False),
    paper_bgcolor="white", plot_bgcolor="white",
    annotations=annots, shapes=shapes, showlegend=True,
    legend=dict(x=629 / W, y=1 - 2080 / H, xanchor="left", yanchor="top", bgcolor="white", bordercolor="black", borderwidth=2,
                font=dict(family=SERIF, size=32, color="#262626"), itemwidth=80, tracegroupgap=0),
    **axes,
)
fig.write_html("out.html", config={"displayModeBar": False},
               post_script="document.body.style.margin='0';document.documentElement.style.overflow='hidden';")
